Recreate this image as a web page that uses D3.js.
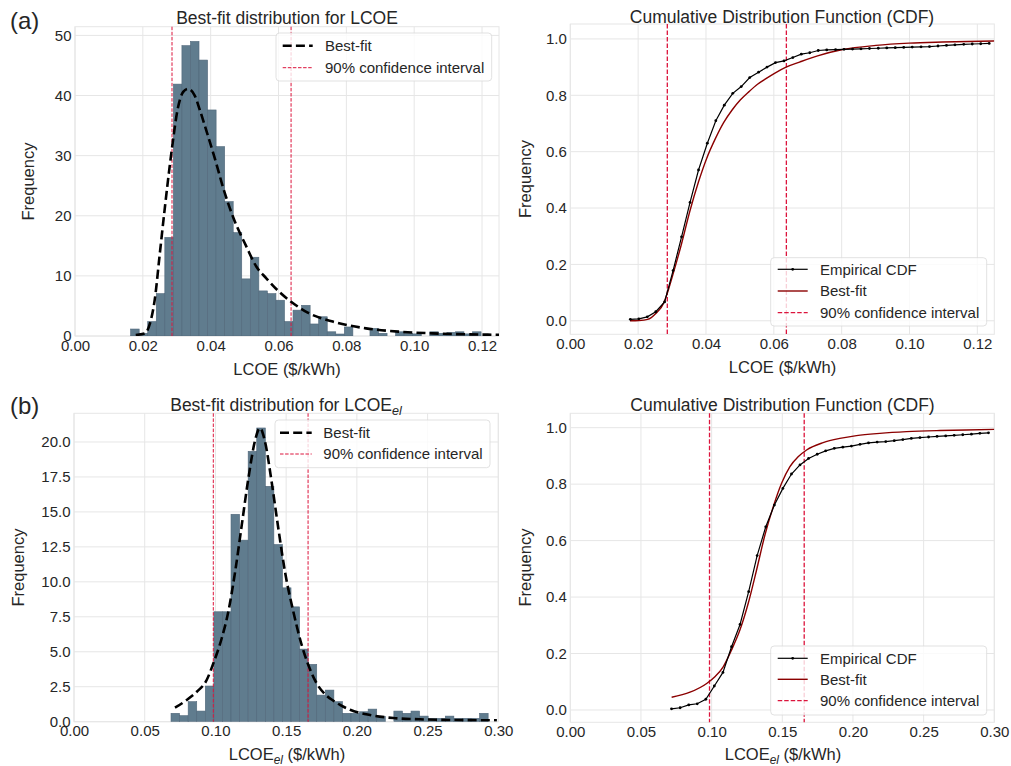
<!DOCTYPE html>
<html>
<head>
<meta charset="utf-8">
<script src="https://cdn.jsdelivr.net/npm/d3@7"></script>
<style>
  html, body { margin: 0; padding: 0; background: #ffffff; }
  svg { display: block; }
  text { font-family: "Liberation Sans", Arial, sans-serif; fill: #262626; }
</style>
</head>
<body>
<svg id="chart" width="1011" height="766"></svg>
<script>
// ---------------- DATA ----------------
// (a) LCOE histogram
const lcoeBinStart = 0.0164;
const lcoeBinWidth = 0.00252;
const lcoeCounts = [1.16, 0.45, 2.4, 7.05, 16.4, 41.9, 48.3, 49.0, 45.9, 37.6, 31.5, 22.35, 17.2, 9.5, 13.1,
  7.5, 7.05, 5.95, 2.4, 4.3, 5.1, 2.0, 3.2, 0.7, 0.33, 1.5, 0, 0, 1.27, 0.45, 0, 0.7, 0.45, 0.35, 0,
  0.7, 0.45, 0.6, 0.7, 0.35, 0.7];
const lcoeFitX = [0.0179, 0.0206, 0.0221, 0.0235, 0.0250, 0.0265, 0.0284, 0.0304, 0.0319, 0.0333, 0.0353,
  0.0368, 0.0387, 0.0417, 0.0436, 0.0466, 0.0505, 0.0534, 0.0564, 0.0603, 0.0637, 0.0686, 0.0760, 0.0858,
  0.0956, 0.1054, 0.1152, 0.1250];
const lcoeFitY = [0.17, 0.44, 2.1, 6.0, 13.7, 21.4, 30.4, 38.1, 40.6, 41.1, 40.0, 37.6, 34.2, 28.6, 24.8,
  19.8, 14.9, 11.6, 9.6, 7.3, 5.7, 3.9, 2.4, 1.27, 0.72, 0.44, 0.28, 0.2];
const lcoeCI = [0.0286, 0.0637];
const lcoeXTicks = [0.00, 0.02, 0.04, 0.06, 0.08, 0.10, 0.12];
const lcoeHistYTicks = [0, 10, 20, 30, 40, 50];

// (a) LCOE CDF
const lcoeEcdfX = [0.0177, 0.0202, 0.0227, 0.0252, 0.0278, 0.0303, 0.0328, 0.0353, 0.0378, 0.0404, 0.0429,
  0.0454, 0.0479, 0.0504, 0.0529, 0.0555, 0.0580, 0.0605, 0.0630, 0.0656, 0.0681, 0.0706, 0.0731, 0.0756,
  0.0782, 0.0807, 0.0832, 0.0857, 0.0882, 0.0908, 0.0933, 0.0958, 0.0983, 0.1008, 0.1034, 0.1059, 0.1084,
  0.1109, 0.1134, 0.1160, 0.1185, 0.1210, 0.1235];
const lcoeEcdfY = [0.005, 0.007, 0.014, 0.032, 0.067, 0.178, 0.298, 0.420, 0.535, 0.630, 0.710, 0.765,
  0.807, 0.831, 0.863, 0.882, 0.900, 0.916, 0.922, 0.934, 0.946, 0.951, 0.959, 0.961, 0.962, 0.963, 0.964,
  0.965, 0.966, 0.967, 0.968, 0.969, 0.970, 0.971, 0.972, 0.973, 0.975, 0.977, 0.979, 0.981, 0.982, 0.983,
  0.984];
const lcoeCdfFitX = [0.0176, 0.0202, 0.0228, 0.0252, 0.0277, 0.0288, 0.0302, 0.0327, 0.0352, 0.0378, 0.0402,
  0.0428, 0.0452, 0.0477, 0.0501, 0.0527, 0.0552, 0.0578, 0.0602, 0.0636, 0.0676, 0.0729, 0.0803, 0.0901,
  0.0999, 0.1097, 0.1250];
const lcoeCdfFitY = [0.0, 0.001, 0.005, 0.026, 0.067, 0.105, 0.162, 0.269, 0.387, 0.493, 0.576, 0.647,
  0.703, 0.748, 0.783, 0.813, 0.839, 0.860, 0.878, 0.900, 0.918, 0.940, 0.9625, 0.977, 0.985, 0.989, 0.993];
const cdfYTicks = [0.0, 0.2, 0.4, 0.6, 0.8, 1.0];

// (b) LCOE_el histogram
const elBinStart = 0.0686;
const elBinWidth = 0.00606;
const elCounts = [0.6, 0.43, 1.43, 0.76, 2.55, 7.86, 7.86, 14.83, 12.98, 19.33, 21.0, 16.83, 12.67, 9.57,
  8.21, 5.19, 4.1, 1.9, 2.26, 1.43, 0.6, 0.6, 0.71, 0.9, 0.36, 0, 0.76, 0.6, 0.76, 0.4, 0.24, 0.24, 0.4,
  0.24, 0.24, 0.24, 0.6];
const elFitX = [0.0714, 0.0797, 0.0868, 0.0938, 0.0985, 0.1044, 0.1091, 0.1139, 0.1186, 0.1233, 0.1280,
  0.1315, 0.1351, 0.1398, 0.1445, 0.1492, 0.1551, 0.1610, 0.1657, 0.1716, 0.1787, 0.1834, 0.1881, 0.1952,
  0.2093, 0.2258, 0.2447, 0.2683, 0.2990];
const elFitY = [1.0, 1.55, 2.14, 2.98, 4.17, 5.95, 7.86, 10.7, 14.05, 17.4, 20.1, 21.0, 20.0, 17.1, 13.8,
  10.7, 7.86, 5.48, 4.05, 2.74, 1.85, 1.5, 1.2, 0.85, 0.48, 0.26, 0.17, 0.12, 0.1];
const elCI = [0.0985, 0.1655];
const elXTicks = [0.00, 0.05, 0.10, 0.15, 0.20, 0.25, 0.30];
const elHistYTicks = [0.0, 2.5, 5.0, 7.5, 10.0, 12.5, 15.0, 17.5, 20.0];

// (b) LCOE_el CDF
const elEcdfX = [0.0716, 0.0777, 0.0838, 0.0898, 0.0959, 0.1019, 0.1080, 0.1141, 0.1201, 0.1262, 0.1322,
  0.1383, 0.1444, 0.1504, 0.1565, 0.1625, 0.1686, 0.1747, 0.1807, 0.1868, 0.1928, 0.1989, 0.2050, 0.2110,
  0.2171, 0.2232, 0.2292, 0.2353, 0.2413, 0.2474, 0.2535, 0.2595, 0.2656, 0.2716, 0.2777, 0.2838, 0.2898,
  0.2959];
const elEcdfY = [0.004, 0.008, 0.018, 0.022, 0.038, 0.085, 0.133, 0.224, 0.303, 0.419, 0.547, 0.649, 0.726,
  0.785, 0.836, 0.868, 0.891, 0.906, 0.918, 0.927, 0.931, 0.935, 0.941, 0.946, 0.949, 0.951, 0.954, 0.958,
  0.962, 0.965, 0.967, 0.969, 0.971, 0.973, 0.975, 0.977, 0.980, 0.982];
const elCdfFitX = [0.0717, 0.0847, 0.0965, 0.1023, 0.1082, 0.1141, 0.1200, 0.1259, 0.1318, 0.1377, 0.1436,
  0.1495, 0.1554, 0.1612, 0.1672, 0.1789, 0.1907, 0.2025, 0.2190, 0.2379, 0.2615, 0.2800, 0.3000];
const elCdfFitY = [0.045, 0.063, 0.094, 0.118, 0.153, 0.213, 0.283, 0.378, 0.496, 0.620, 0.720, 0.803,
  0.862, 0.897, 0.921, 0.947, 0.962, 0.972, 0.980, 0.986, 0.990, 0.992, 0.994];

// ---------------- STYLE ----------------
const BAR_FILL = "#607c8e";
const BAR_EDGE = "#50677a";
const CI_RED = "#dc143c";
const FIT_RED = "#8b0000";
const GRID = "#e6e6e6";
const FONT_TICK = 15, FONT_LABEL = 16.5, FONT_TITLE = 17.5, FONT_LEG = 15;

const svg = d3.select("#chart");
let clipId = 0;

function makePanel(o) {
  const g = svg.append("g");
  const x = d3.scaleLinear().domain(o.xDomain).range([o.left, o.right]);
  const y = d3.scaleLinear().domain(o.yDomain).range([o.bottom, o.top]);
  const id = "clip" + (clipId++);
  svg.append("defs").append("clipPath").attr("id", id)
    .append("rect").attr("x", o.left).attr("y", o.top)
    .attr("width", o.right - o.left).attr("height", o.bottom - o.top);

  // grid
  g.selectAll(".gx").data(o.xTicks).join("line")
    .attr("x1", d => x(d)).attr("x2", d => x(d))
    .attr("y1", o.top).attr("y2", o.bottom)
    .attr("stroke", GRID).attr("stroke-width", 1);
  g.selectAll(".gy").data(o.yTicks).join("line")
    .attr("y1", d => y(d)).attr("y2", d => y(d))
    .attr("x1", o.left).attr("x2", o.right)
    .attr("stroke", GRID).attr("stroke-width", 1);
  g.append("rect").attr("x", o.left).attr("y", o.top)
    .attr("width", o.right - o.left).attr("height", o.bottom - o.top)
    .attr("fill", "none").attr("stroke", GRID).attr("stroke-width", 1);

  // axes (tick labels only)
  const xa = g.append("g").attr("transform", `translate(0,${o.bottom})`)
    .call(d3.axisBottom(x).tickValues(o.xTicks).tickFormat(d3.format(".2f")).tickSize(0).tickPadding(4));
  const ya = g.append("g").attr("transform", `translate(${o.left},0)`)
    .call(d3.axisLeft(y).tickValues(o.yTicks).tickFormat(o.yFormat).tickSize(0).tickPadding(3.5));
  [xa, ya].forEach(a => {
    a.attr("font-size", FONT_TICK).attr("font-family", '"Liberation Sans", Arial, sans-serif');
    a.select(".domain").remove();
    a.selectAll("text").attr("font-size", FONT_TICK).attr("fill", "#262626");
  });

  return { g, x, y, clip: `url(#${id})` };
}

function addText(parent, x, y, parts, size, anchor, rotate) {
  const t = parent.append("text").attr("font-size", size).attr("text-anchor", anchor || "middle");
  if (rotate) {
    t.attr("transform", `translate(${x},${y}) rotate(-90)`).attr("dy", "0.35em");
  } else {
    t.attr("x", x).attr("y", y);
  }
  let pendingShift = 0;
  parts.forEach(p => {
    if (typeof p === "string") {
      const ts = t.append("tspan").text(p);
      if (pendingShift) { ts.attr("dy", -pendingShift); pendingShift = 0; }
    } else {
      const shift = size * 0.22;
      t.append("tspan").text(p.sub).attr("font-style", "italic")
        .attr("font-size", size * 0.72).attr("dy", shift);
      pendingShift = shift;
    }
  });
  return t;
}

function histPanel(o) {
  const p = makePanel(o);
  const bars = o.counts.map((c, i) => ({ x0: o.binStart + i * o.binWidth, x1: o.binStart + (i + 1) * o.binWidth, c }));
  p.g.append("g").attr("clip-path", p.clip).selectAll("rect").data(bars.filter(b => b.c > 0)).join("rect")
    .attr("x", d => p.x(d.x0)).attr("width", d => p.x(d.x1) - p.x(d.x0))
    .attr("y", d => p.y(d.c)).attr("height", d => p.y(0) - p.y(d.c))
    .attr("fill", BAR_FILL).attr("stroke", BAR_EDGE).attr("stroke-width", 0.6);
  // CI lines
  p.g.selectAll(".ci").data(o.ci).join("line")
    .attr("x1", d => p.x(d)).attr("x2", d => p.x(d))
    .attr("y1", o.top).attr("y2", o.bottom)
    .attr("stroke", CI_RED).attr("stroke-width", 1).attr("stroke-dasharray", "3.5,1.6");
  // best fit
  const pts = o.fitX.map((v, i) => [v, o.fitY[i]]);
  p.g.append("path").attr("clip-path", p.clip).datum(pts)
    .attr("d", d3.line().x(d => p.x(d[0])).y(d => p.y(d[1])).curve(d3.curveMonotoneX))
    .attr("fill", "none").attr("stroke", "#000").attr("stroke-width", 2.6)
    .attr("stroke-dasharray", "9,4.2");
  // legend
  const L = o.legend;
  p.g.append("rect").attr("x", L.x0).attr("y", L.y0).attr("width", L.x1 - L.x0).attr("height", L.y1 - L.y0)
    .attr("rx", 3.5).attr("fill", "#fff").attr("fill-opacity", 0.8).attr("stroke", "#d9d9d9").attr("stroke-width", 0.8);
  p.g.append("line").attr("x1", L.lx0).attr("x2", L.lx1).attr("y1", L.rows[0]).attr("y2", L.rows[0])
    .attr("stroke", "#000").attr("stroke-width", 2.6).attr("stroke-dasharray", "9,4.2");
  p.g.append("line").attr("x1", L.lx0).attr("x2", L.lx1).attr("y1", L.rows[1]).attr("y2", L.rows[1])
    .attr("stroke", CI_RED).attr("stroke-width", 1).attr("stroke-dasharray", "3.5,1.6");
  addText(p.g, L.tx, L.rows[0] + 5.3, ["Best-fit"], FONT_LEG, "start");
  addText(p.g, L.tx, L.rows[1] + 5.3, ["90% confidence interval"], FONT_LEG, "start");
  return p;
}

function cdfPanel(o) {
  const p = makePanel(o);
  // CI lines
  p.g.selectAll(".ci").data(o.ci).join("line")
    .attr("x1", d => p.x(d)).attr("x2", d => p.x(d))
    .attr("y1", o.top).attr("y2", o.bottom)
    .attr("stroke", CI_RED).attr("stroke-width", 1.3).attr("stroke-dasharray", "4.5,2");
  const fit = o.fitX.map((v, i) => [v, o.fitY[i]]);
  const emp = o.ecdfX.map((v, i) => [v, o.ecdfY[i]]);
  const cg = p.g.append("g").attr("clip-path", p.clip);
  cg.append("path").datum(fit)
    .attr("d", d3.line().x(d => p.x(d[0])).y(d => p.y(d[1])).curve(d3.curveMonotoneX))
    .attr("fill", "none").attr("stroke", FIT_RED).attr("stroke-width", 1.4);
  cg.append("path").datum(emp)
    .attr("d", d3.line().x(d => p.x(d[0])).y(d => p.y(d[1])))
    .attr("fill", "none").attr("stroke", "#000").attr("stroke-width", 1.2);
  cg.selectAll("circle").data(emp).join("circle")
    .attr("cx", d => p.x(d[0])).attr("cy", d => p.y(d[1])).attr("r", 1.4).attr("fill", "#000");
  // legend
  const L = o.legend;
  p.g.append("rect").attr("x", L.x0).attr("y", L.y0).attr("width", L.x1 - L.x0).attr("height", L.y1 - L.y0)
    .attr("rx", 3.5).attr("fill", "#fff").attr("fill-opacity", 0.8).attr("stroke", "#d9d9d9").attr("stroke-width", 0.8);
  p.g.append("line").attr("x1", L.lx0).attr("x2", L.lx1).attr("y1", L.rows[0]).attr("y2", L.rows[0])
    .attr("stroke", "#000").attr("stroke-width", 1.2);
  p.g.append("circle").attr("cx", (L.lx0 + L.lx1) / 2).attr("cy", L.rows[0]).attr("r", 1.4).attr("fill", "#000");
  p.g.append("line").attr("x1", L.lx0).attr("x2", L.lx1).attr("y1", L.rows[1]).attr("y2", L.rows[1])
    .attr("stroke", FIT_RED).attr("stroke-width", 1.4);
  p.g.append("line").attr("x1", L.lx0).attr("x2", L.lx1).attr("y1", L.rows[2]).attr("y2", L.rows[2])
    .attr("stroke", CI_RED).attr("stroke-width", 1.3).attr("stroke-dasharray", "4.5,2");
  addText(p.g, L.tx, L.rows[0] + 5.3, ["Empirical CDF"], FONT_LEG, "start");
  addText(p.g, L.tx, L.rows[1] + 5.3, ["Best-fit"], FONT_LEG, "start");
  addText(p.g, L.tx, L.rows[2] + 5.3, ["90% confidence interval"], FONT_LEG, "start");
  return p;
}

const fInt = d3.format("d");
const f1 = d3.format(".1f");

// Panel (a) left
histPanel({
  left: 75, right: 499, top: 26.7, bottom: 336,
  xDomain: [0, 0.125], yDomain: [0, 51.45],
  xTicks: lcoeXTicks, yTicks: lcoeHistYTicks, yFormat: fInt,
  binStart: lcoeBinStart, binWidth: lcoeBinWidth, counts: lcoeCounts,
  fitX: lcoeFitX, fitY: lcoeFitY, ci: lcoeCI,
  legend: { x0: 276, x1: 491.7, y0: 33, y1: 81, lx0: 282.7, lx1: 312.7, tx: 325, rows: [45.7, 67.7] }
});
// Panel (a) right
cdfPanel({
  left: 570.3, right: 994.3, top: 24, bottom: 334.3,
  xDomain: [0, 0.125], yDomain: [-0.048, 1.053],
  xTicks: lcoeXTicks, yTicks: cdfYTicks, yFormat: f1,
  ecdfX: lcoeEcdfX, ecdfY: lcoeEcdfY, fitX: lcoeCdfFitX, fitY: lcoeCdfFitY, ci: lcoeCI,
  legend: { x0: 770.7, x1: 986.7, y0: 257.7, y1: 326, lx0: 777.7, lx1: 807.7, tx: 820, rows: [269.3, 291, 312.7] }
});
// Panel (b) left
histPanel({
  left: 74, right: 498.3, top: 413.3, bottom: 721.7,
  xDomain: [0, 0.30], yDomain: [0, 22.05],
  xTicks: elXTicks, yTicks: elHistYTicks, yFormat: f1,
  binStart: elBinStart, binWidth: elBinWidth, counts: elCounts,
  fitX: elFitX, fitY: elFitY, ci: elCI,
  legend: { x0: 275, x1: 490, y0: 420, y1: 467.7, lx0: 280, lx1: 311.7, tx: 323.3, rows: [432.7, 454] }
});
// Panel (b) right
cdfPanel({
  left: 570.3, right: 994.3, top: 413.3, bottom: 722.3,
  xDomain: [0, 0.30], yDomain: [-0.0436, 1.051],
  xTicks: elXTicks, yTicks: cdfYTicks, yFormat: f1,
  ecdfX: elEcdfX, ecdfY: elEcdfY, fitX: elCdfFitX, fitY: elCdfFitY, ci: elCI,
  legend: { x0: 770.7, x1: 986.7, y0: 646, y1: 715, lx0: 777.7, lx1: 807.7, tx: 820, rows: [658.3, 679.3, 700.7] }
});

// Titles, axis labels, panel labels
const T = svg.append("g");
addText(T, 287, 24, ["Best-fit distribution for LCOE"], FONT_TITLE);
addText(T, 782, 22.5, ["Cumulative Distribution Function (CDF)"], FONT_TITLE);
addText(T, 286, 411, ["Best-fit distribution for LCOE", { sub: "el" }], FONT_TITLE);
addText(T, 782.5, 411, ["Cumulative Distribution Function (CDF)"], FONT_TITLE);

addText(T, 287, 375, ["LCOE ($/kWh)"], FONT_LABEL);
addText(T, 782.5, 373, ["LCOE ($/kWh)"], FONT_LABEL);
addText(T, 287, 760, ["LCOE", { sub: "el" }, " ($/kWh)"], FONT_LABEL);
addText(T, 783, 760, ["LCOE", { sub: "el" }, " ($/kWh)"], FONT_LABEL);

addText(T, 28, 181.5, ["Frequency"], FONT_LABEL, "middle", true);
addText(T, 525, 179, ["Frequency"], FONT_LABEL, "middle", true);
addText(T, 18, 567.5, ["Frequency"], FONT_LABEL, "middle", true);
addText(T, 525, 567.5, ["Frequency"], FONT_LABEL, "middle", true);

addText(T, 10, 29, ["(a)"], 24, "start");
addText(T, 10, 414, ["(b)"], 24, "start");
</script>
</body>
</html>
